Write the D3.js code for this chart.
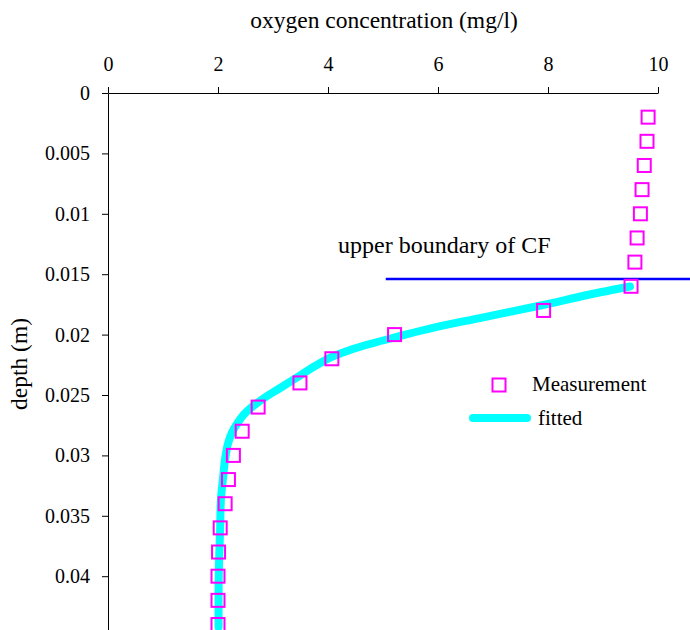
<!DOCTYPE html>
<html>
<head>
<meta charset="utf-8">
<script src="https://cdn.jsdelivr.net/npm/d3@7"></script>
<style>
  body { margin: 0; background: #fff; }
  svg { display: block; }
  text { font-family: "Liberation Serif", "Times New Roman", serif; fill: #000; }
</style>
</head>
<body>
<svg width="690" height="630"></svg>
<script>
const concTicks = [0, 2, 4, 6, 8, 10];
const depthTicks = [0, 0.005, 0.01, 0.015, 0.02, 0.025, 0.03, 0.035, 0.04];

// measured points (depth m, oxygen mg/l)
const measDepth = [0.002, 0.004, 0.006, 0.008, 0.010, 0.012, 0.014, 0.016, 0.018, 0.020, 0.022,
                   0.024, 0.026, 0.028, 0.030, 0.032, 0.034, 0.036, 0.038, 0.040, 0.042, 0.044];
const measConc  = [9.82, 9.80, 9.75, 9.71, 9.68, 9.62, 9.58, 9.51, 7.92, 5.21, 4.07,
                   3.49, 2.73, 2.44, 2.28, 2.19, 2.13, 2.04, 2.01, 2.00, 2.00, 2.00];

// fitted curve
const fitDepth = [0.01602, 0.01668, 0.01755, 0.01863, 0.01950, 0.02024, 0.02078, 0.02127,
                  0.02185, 0.02256, 0.02339, 0.02442, 0.02537, 0.02599, 0.02661, 0.02736,
                  0.02815, 0.02906, 0.02997, 0.03195, 0.03386, 0.03593, 0.03866, 0.04197, 0.04421];
const fitConc  = [9.49, 8.76, 7.91, 6.76, 5.85, 5.20, 4.76, 4.40,
                  4.07, 3.78, 3.49, 3.13, 2.80, 2.62, 2.47, 2.35,
                  2.25, 2.18, 2.14, 2.09, 2.05, 2.04, 2.02, 2.01, 2.01];

const boundaryDepth = 0.0154;
const boundaryConc = [5.05, 10.7];

const svg = d3.select("svg");

const x = d3.scaleLinear().domain([0, 10]).range([108, 658]);
const y = d3.scaleLinear().domain([0, 0.045]).range([93, 636.6]);

// axes
svg.append("g")
  .attr("transform", `translate(0,${y(0)})`)
  .call(d3.axisTop(x).tickValues(concTicks).tickSize(6).tickSizeOuter(0).tickPadding(16)
    .tickFormat(d3.format("d")));

svg.append("g")
  .attr("transform", `translate(${x(0)},0)`)
  .call(d3.axisLeft(y).tickValues(depthTicks).tickSize(6).tickSizeOuter(0).tickPadding(12)
    .tickFormat(d => String(d)));

svg.selectAll(".tick text")
  .style("font-family", "'Liberation Serif', 'Times New Roman', serif")
  .style("font-size", "20px");
svg.selectAll(".domain, .tick line").attr("stroke", "#000");

svg.append("text")
  .attr("x", 384).attr("y", 28)
  .attr("text-anchor", "middle")
  .style("font-size", "23.5px")
  .text("oxygen concentration (mg/l)");

svg.append("text")
  .attr("transform", "translate(27,364) rotate(-90)")
  .attr("text-anchor", "middle")
  .style("font-size", "23.5px")
  .text("depth (m)");

// upper boundary of CF
svg.append("line")
  .attr("x1", x(boundaryConc[0])).attr("x2", x(boundaryConc[1]))
  .attr("y1", y(boundaryDepth)).attr("y2", y(boundaryDepth))
  .attr("stroke", "#0000ff").attr("stroke-width", 2.5);

svg.append("text")
  .attr("x", 338).attr("y", 253)
  .style("font-size", "24px")
  .text("upper boundary of CF");

// fitted curve
const fitData = fitDepth.map((d, i) => ({ depth: d, conc: fitConc[i] }));
const line = d3.line()
  .x(d => x(d.conc))
  .y(d => y(d.depth))
  .curve(d3.curveMonotoneY);

svg.append("path")
  .datum(fitData)
  .attr("d", line)
  .attr("fill", "none")
  .attr("stroke", "#00ffff")
  .attr("stroke-width", 8)
  .attr("stroke-linecap", "round");

// measurements
const measData = measDepth.map((d, i) => ({ depth: d, conc: measConc[i] }));
const s = 13;
svg.selectAll("rect.meas")
  .data(measData)
  .enter()
  .append("rect")
  .attr("class", "meas")
  .attr("x", d => x(d.conc) - s / 2)
  .attr("y", d => y(d.depth) - s / 2)
  .attr("width", s).attr("height", s)
  .attr("fill", "none")
  .attr("stroke", "#ff00ff")
  .attr("stroke-width", 2);

// legend
const legend = svg.append("g");
legend.append("rect")
  .attr("x", 499 - s / 2).attr("y", 385 - s / 2)
  .attr("width", s).attr("height", s)
  .attr("fill", "none").attr("stroke", "#ff00ff").attr("stroke-width", 2);
legend.append("text")
  .attr("x", 532).attr("y", 391)
  .style("font-size", "21px")
  .text("Measurement");
legend.append("line")
  .attr("x1", 473).attr("x2", 527)
  .attr("y1", 418).attr("y2", 418)
  .attr("stroke", "#00ffff").attr("stroke-width", 8).attr("stroke-linecap", "round");
legend.append("text")
  .attr("x", 538).attr("y", 425)
  .style("font-size", "21px")
  .text("fitted");
</script>
</body>
</html>
